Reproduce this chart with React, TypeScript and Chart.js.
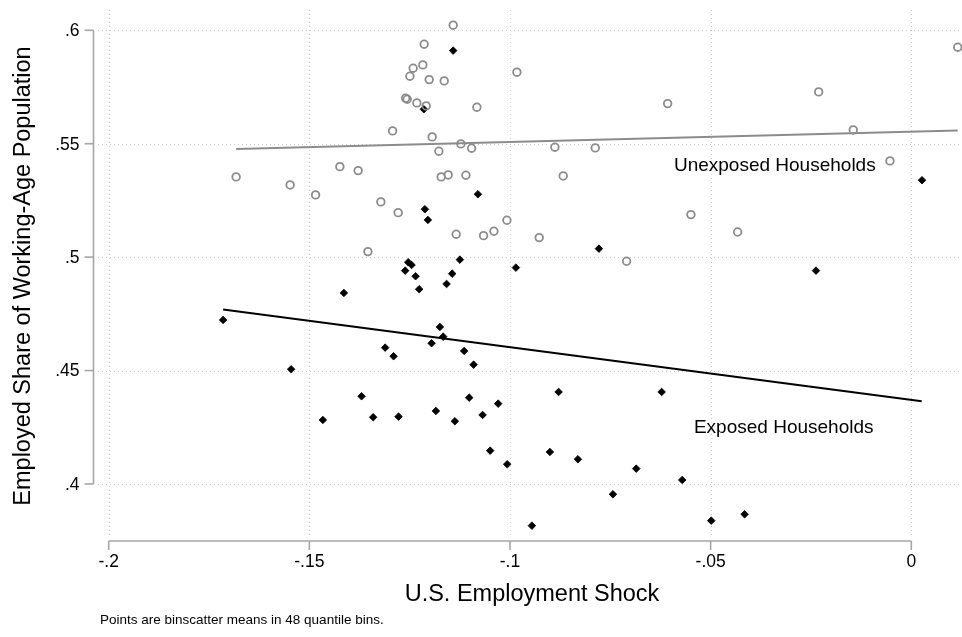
import React, { useEffect, useRef } from "react";
import { Chart, registerables } from "chart.js";

Chart.register(...registerables);

// Unexposed households (hollow gray circles)
const unexposedX = [
  -0.16825, -0.15479, -0.14845, -0.11416, -0.12139, -0.12413, -0.12171, -0.12495,
  -0.12014, -0.1164, -0.12602, -0.12562, -0.12321, -0.12089, -0.10825, -0.09828,
  -0.12926, -0.11939, -0.11224, -0.10957, -0.11772, -0.08881, -0.07876, -0.1424,
  -0.13784, -0.11715, -0.1154, -0.11099, -0.08674, -0.13218, -0.12787, -0.10077,
  0.01157, -0.06072, -0.02308, -0.01446, -0.00531, -0.05491, -0.13542, -0.11341,
  -0.10658, -0.10401, -0.09272, -0.07094, -0.04327,
];
const unexposedY = [
  0.53536, 0.53183, 0.52743, 0.60225, 0.59387, 0.58329, 0.58474, 0.57976,
  0.57826, 0.57769, 0.57006, 0.56962, 0.56799, 0.56667, 0.56609, 0.58153,
  0.55564, 0.553, 0.54991, 0.54802, 0.54669, 0.54846, 0.54815, 0.5399,
  0.53814, 0.53536, 0.53624, 0.53611, 0.5358, 0.52434, 0.51962, 0.51627,
  0.59255, 0.56768, 0.57284, 0.55608, 0.54242, 0.51874, 0.50243, 0.5101,
  0.50948, 0.51141, 0.5086, 0.49819, 0.51108,
];

// Exposed households (black diamonds)
const exposedX = [
  -0.17149, -0.15454, -0.14664, -0.1414, -0.13699, -0.1341, -0.13111, -0.12901,
  -0.12777, -0.12612, -0.12537, -0.12453, -0.12353, -0.12263, -0.12146, -0.12121,
  -0.12046, -0.11954, -0.11847, -0.11747, -0.11665, -0.1158, -0.11441, -0.11416,
  -0.11374, -0.11249, -0.11142, -0.11017, -0.10907, -0.108, -0.10683, -0.10494,
  -0.10294, -0.1007, -0.09853, -0.09454, -0.09006, -0.08789, -0.08308, -0.07784,
  -0.07435, -0.06854, -0.06221, -0.05708, -0.04985, -0.04153, -0.02375, 0.00267,
];
const exposedY = [
  0.47231, 0.45057, 0.42822, 0.48422, 0.43867, 0.42941, 0.4601, 0.45631,
  0.42967, 0.49405, 0.49775, 0.49656, 0.49158, 0.48585, 0.56521, 0.52112,
  0.5164, 0.46204, 0.43219, 0.46922, 0.46495, 0.48818, 0.49272, 0.59105,
  0.42765, 0.4989, 0.45864, 0.43805, 0.4526, 0.52773, 0.43042, 0.41468,
  0.43541, 0.40869, 0.49537, 0.38161, 0.41411, 0.44056, 0.41089, 0.50375,
  0.39546, 0.40675, 0.44056, 0.40176, 0.38382, 0.38664, 0.49405, 0.53391,
];

// Linear fit lines (end points)
const unexposedFitX = [-0.16825, 0.01157];
const unexposedFitY = [0.54766, 0.55586];
const exposedFitX = [-0.17149, 0.00259];
const exposedFitY = [0.4769, 0.4365];

// Axis ticks
const xTicks = [-0.2, -0.15, -0.1, -0.05, 0];
const xTickLabels = ["-.2", "-.15", "-.1", "-.05", "0"];
const yTicks = [0.4, 0.45, 0.5, 0.55, 0.6];
const yTickLabels = [".4", ".45", ".5", ".55", ".6"];

// Text labels placed in data coordinates
const labelTexts = ["Unexposed Households", "Exposed Households"];
const labelX = [-0.05915, -0.05416];
const labelY = [0.5401, 0.4249];

const xTitle = "U.S. Employment Shock";
const yTitle = "Employed Share of Working-Age Population";
const noteText = "Points are binscatter means in 48 quantile bins.";

const FONT = '"Liberation Sans", Arial, Helvetica, sans-serif';
const GRAY = "#8c8c8c";

const toPts = (xs: number[], ys: number[]) => xs.map((x, i) => ({ x, y: ys[i] }));

const stataPlugin = {
  id: "stataDecor",
  beforeDatasetsDraw(chart: any) {
    const { ctx, chartArea, scales } = chart;
    const xs = scales.x;
    const ys = scales.y;
    ctx.save();
    ctx.strokeStyle = "#cfcfcf";
    ctx.lineWidth = 1;
    ctx.setLineDash([1, 3]);
    xTicks.forEach((v) => {
      const px = Math.round(xs.getPixelForValue(v)) + 0.5;
      ctx.beginPath();
      ctx.moveTo(px, chartArea.top);
      ctx.lineTo(px, chartArea.bottom);
      ctx.stroke();
    });
    yTicks.forEach((v) => {
      const py = Math.round(ys.getPixelForValue(v)) + 0.5;
      ctx.beginPath();
      ctx.moveTo(chartArea.left, py);
      ctx.lineTo(chartArea.right, py);
      ctx.stroke();
    });
    ctx.restore();
  },
  afterDatasetsDraw(chart: any) {
    const { ctx, chartArea, scales } = chart;
    const xs = scales.x;
    const ys = scales.y;
    const axisX = chartArea.left - 4.5;
    const axisY = chartArea.bottom + 6;
    const tickLen = 9;
    ctx.save();
    ctx.strokeStyle = "#a6a6a6";
    ctx.lineWidth = 1.6;
    ctx.setLineDash([]);
    // y axis
    const yTop = ys.getPixelForValue(yTicks[yTicks.length - 1]);
    const yBot = ys.getPixelForValue(yTicks[0]);
    ctx.beginPath();
    ctx.moveTo(axisX, yTop);
    ctx.lineTo(axisX, yBot);
    ctx.stroke();
    yTicks.forEach((v) => {
      const py = ys.getPixelForValue(v);
      ctx.beginPath();
      ctx.moveTo(axisX, py);
      ctx.lineTo(axisX - tickLen, py);
      ctx.stroke();
    });
    // x axis
    const xL = xs.getPixelForValue(xTicks[0]);
    const xR = xs.getPixelForValue(xTicks[xTicks.length - 1]);
    ctx.beginPath();
    ctx.moveTo(xL, axisY);
    ctx.lineTo(xR, axisY);
    ctx.stroke();
    xTicks.forEach((v) => {
      const px = xs.getPixelForValue(v);
      ctx.beginPath();
      ctx.moveTo(px, axisY);
      ctx.lineTo(px, axisY + tickLen);
      ctx.stroke();
    });

    ctx.fillStyle = "#000";
    ctx.font = `17.5px ${FONT}`;
    ctx.textAlign = "right";
    ctx.textBaseline = "middle";
    yTicks.forEach((v, i) => {
      ctx.fillText(yTickLabels[i], axisX - tickLen - 5, ys.getPixelForValue(v) + 1);
    });
    ctx.textAlign = "center";
    ctx.textBaseline = "middle";
    xTicks.forEach((v, i) => {
      ctx.fillText(xTickLabels[i], xs.getPixelForValue(v), axisY + tickLen + 12);
    });

    // axis titles
    ctx.font = `23.5px ${FONT}`;
    ctx.textAlign = "center";
    ctx.textBaseline = "alphabetic";
    ctx.fillText(xTitle, (chartArea.left + chartArea.right) / 2 + 2, axisY + 60);
    ctx.save();
    ctx.translate(30, 276);
    ctx.rotate(-Math.PI / 2);
    ctx.fillText(yTitle, 0, 0);
    ctx.restore();

    // note
    ctx.font = `13.5px ${FONT}`;
    ctx.textAlign = "left";
    ctx.fillText(noteText, 100, 624);

    // annotations
    ctx.font = `19px ${FONT}`;
    ctx.textAlign = "left";
    ctx.textBaseline = "middle";
    labelTexts.forEach((t, i) => {
      ctx.fillText(t, xs.getPixelForValue(labelX[i]), ys.getPixelForValue(labelY[i]));
    });
    ctx.restore();
  },
};

export default function App() {
  const ref = useRef<HTMLCanvasElement | null>(null);
  useEffect(() => {
    if (!ref.current) return;
    const chart = new Chart(ref.current, {
      type: "scatter",
      data: {
        datasets: [
          {
            type: "line",
            label: "Unexposed fit",
            data: toPts(unexposedFitX, unexposedFitY),
            borderColor: GRAY,
            borderWidth: 2,
            pointRadius: 0,
            showLine: true,
            fill: false,
            order: 0,
          },
          {
            type: "line",
            label: "Exposed fit",
            data: toPts(exposedFitX, exposedFitY),
            borderColor: "#000000",
            borderWidth: 2,
            pointRadius: 0,
            showLine: true,
            fill: false,
            order: 0,
          },
          {
            label: "Unexposed Households",
            data: toPts(unexposedX, unexposedY),
            pointStyle: "circle",
            pointRadius: 3.8,
            borderWidth: 1.8,
            borderColor: GRAY,
            backgroundColor: "rgba(0,0,0,0)",
            order: 1,
          },
          {
            label: "Exposed Households",
            data: toPts(exposedX, exposedY),
            pointStyle: "rectRot",
            pointRadius: 3.8,
            borderWidth: 0.8,
            borderColor: "#000000",
            backgroundColor: "#000000",
            order: 2,
          },
        ],
      } as any,
      options: {
        animation: false,
        responsive: false,
        devicePixelRatio: 1,
        layout: { autoPadding: false, padding: { left: 98, right: 0, top: 10, bottom: 102 } },
        plugins: { legend: { display: false }, tooltip: { enabled: false } },
        events: [],
        scales: {
          x: { type: "linear", min: -0.20267, max: 0.01264, display: false },
          y: { type: "linear", min: 0.3775, max: 0.60895, display: false },
        },
      } as any,
      plugins: [stataPlugin],
    });
    return () => chart.destroy();
  }, []);
  return (
    <div style={{ position: "absolute", left: 0, top: 0, width: 962, height: 637, background: "#fff" }}>
      <canvas ref={ref} width={962} height={637} style={{ display: "block", width: 962, height: 637 }} />
    </div>
  );
}
